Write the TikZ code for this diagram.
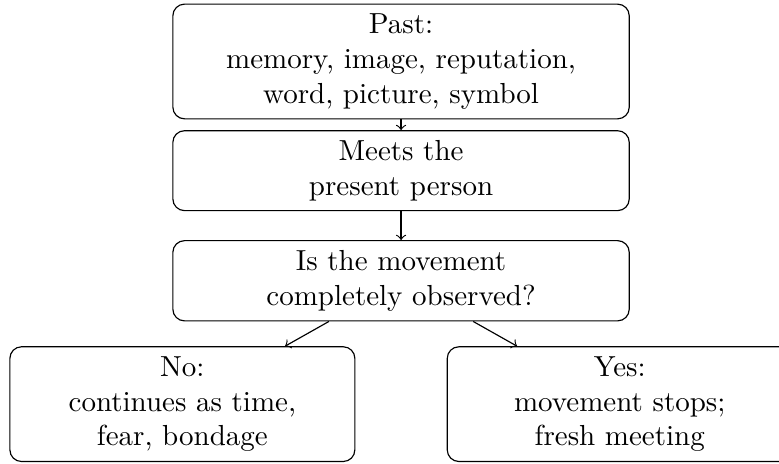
\documentclass[tikz,border=0pt]{standalone}
\usepackage{tikz}
\usetikzlibrary{positioning}
\tikzset{
  stage/.style ={rectangle, rounded corners=4pt, draw=black, align=center,
                 minimum width=5.53cm},
  answer/.style={rectangle, rounded corners=4pt, draw=black, align=center,
                 minimum width=4.18cm},
}
\begin{document}
\begin{tikzpicture}
\clip (0,0) rectangle (9.44,-5.62);
\node[stage] (past) at (4.86,-0.745) {Past:\\ memory, image, reputation,\\ word, picture, symbol};
\node[stage, below=1.3mm of past] (meets) {Meets the\\ present person};
\node[stage, below=3.5mm of meets] (obs) {Is the movement\\ completely observed?};

% the two outcomes
\node[answer, below=3mm of obs, xshift=-2.65cm] (no) {No:\\ continues as time,\\ fear, bondage};
\node[answer, below=3mm of obs, xshift=2.65cm] (yes) {Yes:\\ movement stops;\\ fresh meeting};

\draw[->] (past) -- (meets);
\draw[->] (meets) -- (obs);
\draw[->] (obs) -- (no);
\draw[->] (obs) -- (yes);
\end{tikzpicture}
\end{document}
